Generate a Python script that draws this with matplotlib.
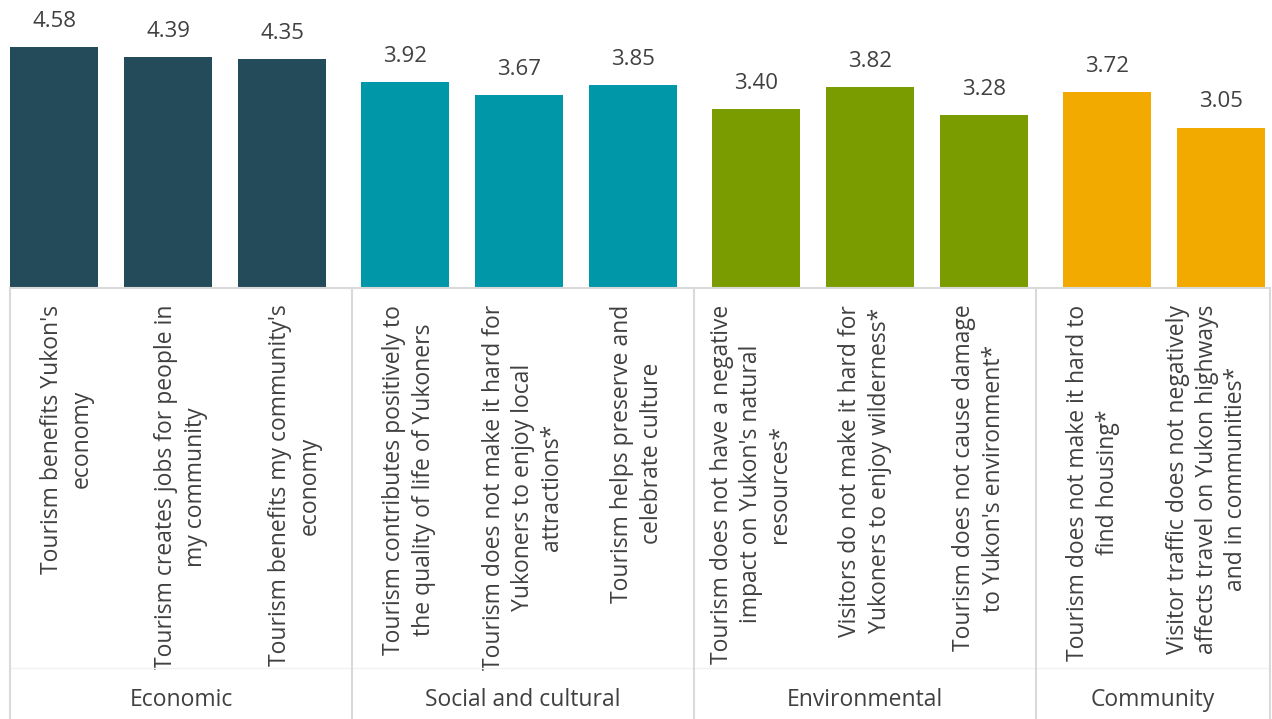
import matplotlib.pyplot as plt
import numpy as np

plt.rcParams['font.family'] = ['Open Sans', 'DejaVu Sans']

groups = ['Economic', 'Social and cultural', 'Environmental', 'Community']
group_sizes = [3, 3, 3, 2]
group_colors = ['#244b5a', '#0097a9', '#7a9c01', '#f2a900']

statements = [
    "Tourism benefits Yukon's\neconomy",
    "Tourism creates jobs for people in\nmy community",
    "Tourism benefits my community's\neconomy",
    "Tourism contributes positively to\nthe quality of life of Yukoners",
    "Tourism does not make it hard for\nYukoners to enjoy local\nattractions*",
    "Tourism helps preserve and\ncelebrate culture",
    "Tourism does not have a negative\nimpact on Yukon's natural\nresources*",
    "Visitors do not make it hard for\nYukoners to enjoy wilderness*",
    "Tourism does not cause damage\nto Yukon's environment*",
    "Tourism does not make it hard to\nfind housing*",
    "Visitor traffic does not negatively\naffects travel on Yukon highways\nand in communities*",
]
scores = [4.58, 4.39, 4.35, 3.92, 3.67, 3.85, 3.40, 3.82, 3.28, 3.72, 3.05]

text_color = '#404040'
line_color = '#d9d9d9'
group_gap = 0.079

# bar positions with a small extra gap between groups
group_idx = np.repeat(np.arange(len(groups)), group_sizes)
x = np.arange(len(scores)) + group_gap * group_idx
colors = [group_colors[g] for g in group_idx]

# category slots on the axis are evenly spaced, independent of the bar gaps
axis_start = -0.386
slots = axis_start + 0.5 + np.arange(len(scores))

fig = plt.figure(figsize=(12.72, 7.19), dpi=100)
ax = fig.add_axes([0, 1 - 288 / 719, 1, 288 / 719])

ax.bar(x, scores, width=0.77, color=colors)
for xi, v in zip(x, scores):
    ax.annotate(f"{v:.2f}", (xi, v), xytext=(0, 11), textcoords='offset points',
                ha='center', va='bottom', fontsize=16, color=text_color)

ax.set_xlim(-0.474, 10.684)
ax.set_ylim(0, 5.475)
for s in ax.spines.values():
    s.set_visible(False)
ax.set_yticks([])
ax.set_xticks(slots)
ax.set_xticklabels(statements, rotation=90, ha='center', va='top',
                   multialignment='center', fontsize=16.5, color=text_color,
                   linespacing=1.29)
ax.tick_params(axis='x', length=0, pad=12)

# category axis lines and group separators
trans = ax.get_xaxis_transform()
seps = [axis_start + 3 * k for k in range(4)] + [10.667]
ybot = -(719 - 288) / 288
ax.plot([seps[0], seps[-1]], [0, 0], color=line_color, lw=1.5,
        transform=trans, clip_on=False)
ax.plot([seps[0], seps[-1]], [-(668 - 288) / 288] * 2, color='#f2f2f2', lw=1,
        transform=trans, clip_on=False)
for s in seps:
    ax.plot([s, s], [0, ybot], color=line_color, lw=1.5,
            transform=trans, clip_on=False)
for i, name in enumerate(groups):
    ax.text((seps[i] + seps[i + 1]) / 2, -(700 - 288) / 288, name,
            ha='center', va='center', fontsize=16.5, color=text_color,
            transform=trans)

fig.savefig('out.png', dpi=100)
